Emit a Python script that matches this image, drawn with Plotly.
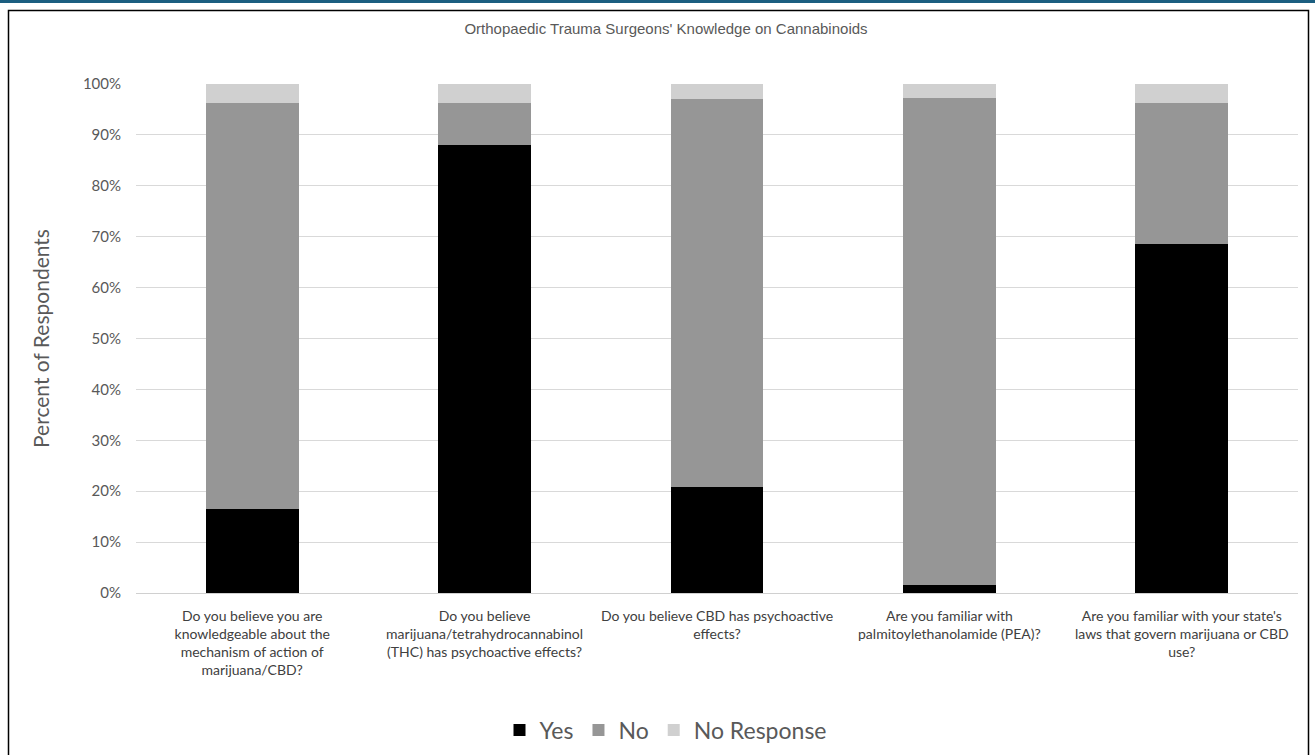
import plotly.graph_objects as go

# Survey questions (category axis)
questions = [
    "Do you believe you are<br>knowledgeable about the<br>mechanism of action of<br>marijuana/CBD?",
    "Do you believe<br>marijuana/tetrahydrocannabinol<br>(THC) has psychoactive effects?",
    "Do you believe CBD has psychoactive<br>effects?",
    "Are you familiar with<br>palmitoylethanolamide (PEA)?",
    "Are you familiar with your state's<br>laws that govern marijuana or CBD<br>use?",
]

# Percent of respondents for each answer
yes_pct = [16.6, 88.0, 20.8, 1.6, 68.6]
no_pct = [79.6, 8.2, 76.3, 95.7, 27.6]
no_response_pct = [3.8, 3.8, 2.9, 2.7, 3.8]

y_ticks = [0, 10, 20, 30, 40, 50, 60, 70, 80, 90, 100]
y_tick_labels = [f"{t}%" for t in y_ticks]

W, H = 1315, 755
L, R, T, B = 136, 17, 84, 162

fig = go.Figure()
for name, vals, color in [
    ("Yes", yes_pct, "#000000"),
    ("No", no_pct, "#969696"),
    ("No Response", no_response_pct, "#d0d0d0"),
]:
    fig.add_trace(go.Bar(
        name=name, x=questions, y=vals, marker_color=color,
        marker_line_width=0, width=0.4,
    ))

# outer frame around the figure, with a coloured band across the very top
def px_x(p):
    return (p - L) / (W - L - R)

def px_y(p):
    return (H - B - p) / (H - T - B)

shapes = [
    dict(type="rect", xref="paper", yref="paper",
         x0=px_x(-5), x1=px_x(W + 5), y0=px_y(3), y1=px_y(-5),
         fillcolor="#1b5e80", line_width=0, layer="above"),
    dict(type="rect", xref="paper", yref="paper",
         x0=px_x(8.5), x1=px_x(1308.5), y0=px_y(770), y1=px_y(10.5),
         line=dict(color="#000000", width=1.5), fillcolor="rgba(0,0,0,0)"),
]

fig.update_layout(
    width=W, height=H,
    margin=dict(l=L, r=R, t=T, b=B),
    paper_bgcolor="white", plot_bgcolor="white",
    barmode="stack", bargap=0.6,
    font=dict(family="Lato", color="#404040"),
    title=dict(
        text="Orthopaedic Trauma Surgeons' Knowledge on Cannabinoids",
        x=666 / W, xanchor="center", y=1 - 29 / H, yanchor="middle",
        font=dict(family="Liberation Sans", size=15, color="#595959"),
    ),
    xaxis=dict(
        showgrid=False, showline=True, linecolor="#d0d0d0", linewidth=1,
        ticks="", tickangle=0, ticklabelstandoff=10,
        tickfont=dict(size=14, color="#404040"),
        fixedrange=True,
    ),
    yaxis=dict(
        range=[0, 100], tickvals=y_ticks, ticktext=y_tick_labels,
        showgrid=True, gridcolor="#d9d9d9", gridwidth=1, zeroline=False,
        showline=False, ticks="", ticklabelstandoff=14,
        tickfont=dict(size=15, color="#595959"),
        title=dict(text="Percent of Respondents", standoff=27,
                   font=dict(size=21, color="#595959")),
    ),
    legend=dict(
        orientation="h", x=px_x(666), xanchor="center",
        yref="container", y=1 - 730 / H, yanchor="middle",
        font=dict(size=23, color="#595959"), traceorder="normal",
    ),
    shapes=shapes,
)

fig.write_html("out.html")
